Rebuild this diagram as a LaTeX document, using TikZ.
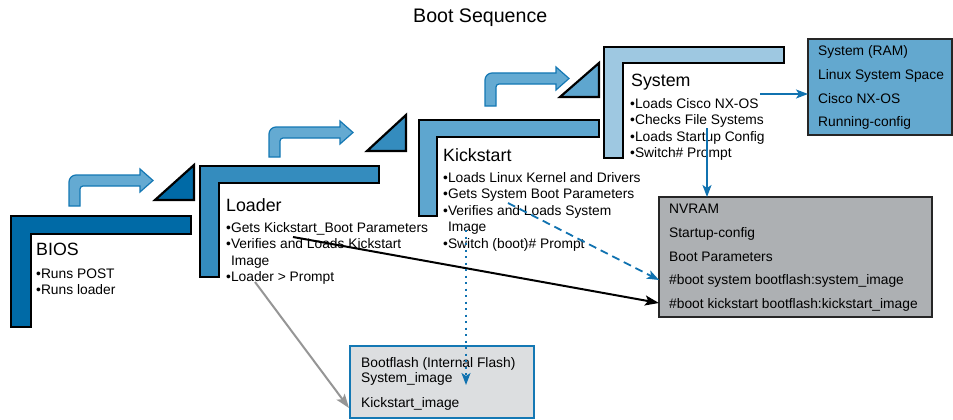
\documentclass[tikz,border=0pt]{standalone}
\usepackage{fontspec}
\setmainfont{Liberation Sans}
\usetikzlibrary{arrows.meta,calc}
\definecolor{cbios}{RGB}{0,106,166}
\definecolor{cload}{RGB}{52,140,190}
\definecolor{ckick}{RGB}{94,166,207}
\definecolor{csys}{RGB}{158,200,225}
\definecolor{arrfill}{RGB}{100,170,210}
\definecolor{arredge}{RGB}{20,120,180}
\definecolor{lnblue}{RGB}{16,114,176}
\definecolor{ramfill}{RGB}{99,168,207}
\definecolor{nvfill}{RGB}{173,176,179}
\definecolor{bffill}{RGB}{220,222,224}
\definecolor{lngray}{RGB}{150,150,150}
\newcommand{\stepL}[7]{\draw[stepline,fill=#7] (#1,#2) -- (#3,#2) -- (#3,#4) -- (#5,#4) -- (#5,#6) -- (#1,#6) -- cycle;}
\newcommand{\bentarrow}[3]{\begin{scope}[shift={(#1,#2)}]
  \draw[bentstyle] (0,0) [rounded corners=7pt] -- (0,-#3) [sharp corners] -- (71,-#3) -- (71,-#3-6) -- (84,-#3+5.5) -- (71,-#3+17) -- (71,-#3+11) [rounded corners=3pt] -- (11,-#3+11) [sharp corners] -- (11,0) -- cycle;
\end{scope}}
\newcommand{\bl}[1]{\hbox{#1}}
\begin{document}
\begin{tikzpicture}[x=1pt,y=-1pt,
  stepline/.style={draw=black,line width=2.2pt,line join=miter},
  bentstyle/.style={draw=arredge,fill=arrfill,line width=1.2pt,line join=miter},
  title/.style={anchor=base west,inner sep=0pt,font=\fontsize{19.6}{22}\selectfont},
  head/.style={anchor=base west,inner sep=0pt,font=\fontsize{17.8}{20}\selectfont},
  bullets/.style={anchor=base west,inner sep=0pt,font=\fontsize{13.8}{16.5}\selectfont},
  boxtxt/.style={anchor=base west,inner sep=0pt,font=\fontsize{13.8}{16.5}\selectfont},
  ramstyle/.style={draw=black!85,fill=ramfill,line width=1.3pt,anchor=north west,inner sep=0pt,outer sep=0pt},
  nvstyle/.style={draw=black!85,fill=nvfill,line width=1.6pt,anchor=north west,inner sep=0pt,outer sep=0pt},
  bfstyle/.style={draw=arredge,fill=bffill,line width=2.2pt,anchor=north west,inner sep=0pt,outer sep=0pt},
  blueconn/.style={draw=lnblue,line width=1.8pt,-{Stealth[length=12pt,width=9pt,inset=3pt]}},
  blackconn/.style={draw=black,line width=2pt,-{Stealth[length=14pt,width=10pt,inset=3pt]}},
  grayconn/.style={draw=lngray,line width=2pt,-{Stealth[length=14pt,width=10pt,inset=3pt]}}]
\useasboundingbox[fill=white] (0,0) rectangle (953,420);

\node[title] (ttl) at (413,23) {Boot Sequence};

% steps
\stepL{11}{216}{191}{234}{31}{327}{cbios}
\stepL{200}{166}{379}{183}{219}{277}{cload}
\stepL{419}{120}{599}{137}{437}{216}{ckick}
\stepL{604}{47}{784}{63}{623}{158}{csys}

% triangles
\draw[stepline,fill=cbios] (155,200) -- (194,165) -- (194,200) -- cycle;
\draw[stepline,fill=cload] (367,151) -- (406,115) -- (406,151) -- cycle;
\draw[stepline,fill=ckick] (560,97) -- (599,63) -- (599,97) -- cycle;

% bent arrows
\bentarrow{69}{206}{31}
\bentarrow{269}{157}{30}
\bentarrow{485}{106}{33}

% step texts
\node[head] (biosh) at (36,255) {BIOS};
\node[bullets] (biosb) at (36,278) {\vtop{\bl{•Runs POST}\bl{•Runs loader}}};
\node[head] (loadh) at (226,211) {Loader};
\node[bullets] (loadb) at (226,232) {\vtop{\bl{•Gets Kickstart\_Boot Parameters}\bl{•Verifies and Loads Kickstart}\bl{\hphantom{•}Image}\bl{•Loader > Prompt}}};
\node[head] (kickh) at (443,161) {Kickstart};
\node[bullets] (kickb) at (443,182) {\vtop{\bl{•Loads Linux Kernel and Drivers}\bl{•Gets System Boot Parameters}\bl{•Verifies and Loads System}\bl{\hphantom{•}Image}\bl{•Switch (boot)\# Prompt}}};
\node[head] (sysh) at (631,86) {System};
\node[bullets] (sysb) at (630,108) {\vtop{\bl{•Loads Cisco NX-OS}\bl{•Checks File Systems}\bl{•Loads Startup Config}\bl{•Switch\# Prompt}}};

% RAM box
\node[ramstyle,minimum width=144pt,minimum height=96pt] (ram) at (808,39) {};
\node[boxtxt] (ram1) at (818,56) {System (RAM)};
\node[boxtxt] (ram2) at (818,79) {Linux System Space};
\node[boxtxt] (ram3) at (818,103) {Cisco NX-OS};
\node[boxtxt] (ram4) at (818,126) {Running-config};

% NVRAM box
\node[nvstyle,minimum width=273pt,minimum height=120pt] (nvram) at (659,197) {};
\node[boxtxt] (nv1) at (669,213) {NVRAM};
\node[boxtxt] (nv2) at (669,237) {Startup-config};
\node[boxtxt] (nv3) at (669,261) {Boot Parameters};
\node[boxtxt] (nv4) at (669,284) {\#boot system bootflash:system\_image};
\node[boxtxt] (nv5) at (669,308) {\#boot kickstart bootflash:kickstart\_image};

% Bootflash box
\node[bfstyle,minimum width=184pt,minimum height=72pt] (bootflash) at (350,346) {};
\node[boxtxt] (bf1) at (361,367) {Bootflash (Internal Flash)};
\node[boxtxt] (bf2) at (361,382) {System\_image};
\node[boxtxt] (bf3) at (361,407) {Kickstart\_image};

% connectors
\coordinate (nxstart) at (760,94);
\draw[blueconn] (nxstart) -- (nxstart -| ram.west);
\coordinate (sysdown) at (707,128);
\draw[blueconn] (sysdown) -- (sysdown |- nvram.north);
\coordinate (ksdash) at (508,203);
\coordinate (dashend) at (659,280);
\draw[blueconn,dash pattern=on 8pt off 5pt] (ksdash) -- (nvram.west |- dashend);
\coordinate (ldblack) at (293,237);
\coordinate (blackend) at (659,303);
\draw[blackconn] (ldblack) -- (nvram.west |- blackend);
\coordinate (ksdot) at (466,230);
\coordinate (dotend) at (466,385);
\draw[blueconn,dash pattern=on 2pt off 4.5pt] (ksdot) -- (dotend);
\coordinate (ldgray) at (255,282);
\coordinate (grayend) at (349,408);
\draw[grayconn] (ldgray) -- (grayend);
\end{tikzpicture}
\end{document}
